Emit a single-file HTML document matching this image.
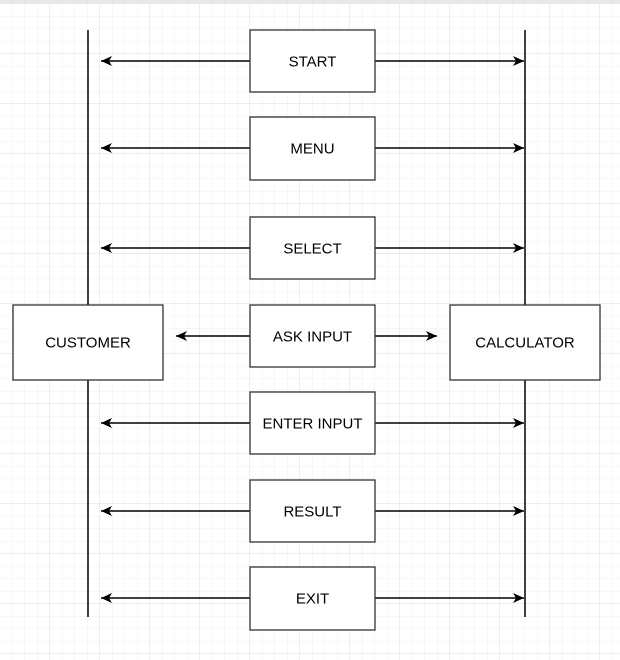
<!DOCTYPE html>
<html><head><style>
html,body{margin:0;padding:0;background:#fff}
svg{display:block}
text{font-family:"Liberation Sans",Arial,sans-serif;font-size:15px;fill:#000}
</style></head><body>
<svg width="620" height="660" viewBox="0 0 620 660">
<defs>
<pattern id="minor" x="0" y="4" width="12.5" height="12.5" patternUnits="userSpaceOnUse">
<path d="M12.5 0V12.5M0 12.5H12.5" stroke="#efefef" stroke-width="1" fill="none"/>
</pattern>
<pattern id="major" x="0" y="4" width="50" height="50" patternUnits="userSpaceOnUse">
<path d="M50 0V50M0 50H50" stroke="#dcdcdc" stroke-width="1" fill="none"/>
</pattern>
<marker id="ah" markerWidth="12" markerHeight="10" refX="11" refY="5" orient="auto" markerUnits="userSpaceOnUse">
<path d="M0,0 L11,5 L0,10 L3,5 Z" fill="#000"/>
</marker>
</defs>
<rect width="620" height="660" fill="url(#minor)"/>
<rect width="620" height="660" fill="url(#major)"/>
<rect width="620" height="4" fill="#e8e8e8"/>
<g stroke="#000" stroke-width="1.5">
<line x1="88" y1="30" x2="88" y2="617"/>
<line x1="525" y1="30" x2="525" y2="617"/>
</g>
<g stroke="#000" stroke-width="1.5" fill="none" marker-end="url(#ah)">
<line x1="250" y1="61" x2="101" y2="61"/><line x1="375" y1="61" x2="524" y2="61"/>
<line x1="250" y1="148" x2="101" y2="148"/><line x1="375" y1="148" x2="524" y2="148"/>
<line x1="250" y1="248" x2="101" y2="248"/><line x1="375" y1="248" x2="524" y2="248"/>
<line x1="250" y1="336" x2="176" y2="336"/><line x1="375" y1="336" x2="437" y2="336"/>
<line x1="250" y1="423" x2="101" y2="423"/><line x1="375" y1="423" x2="524" y2="423"/>
<line x1="250" y1="511" x2="101" y2="511"/><line x1="375" y1="511" x2="524" y2="511"/>
<line x1="250" y1="598" x2="101" y2="598"/><line x1="375" y1="598" x2="524" y2="598"/>
</g>
<g fill="#fff" stroke="#333" stroke-width="1.3">
<rect x="250" y="30" width="125" height="62"/>
<rect x="250" y="117" width="125" height="63"/>
<rect x="250" y="217" width="125" height="62"/>
<rect x="250" y="305" width="125" height="62"/>
<rect x="250" y="392" width="125" height="62"/>
<rect x="250" y="480" width="125" height="62"/>
<rect x="250" y="567" width="125" height="63"/>
<rect x="13" y="305" width="150" height="75"/>
<rect x="450" y="305" width="150" height="75"/>
</g>
<g text-anchor="middle">
<text x="312.5" y="66.5">START</text>
<text x="312.5" y="153.5">MENU</text>
<text x="312.5" y="253.5">SELECT</text>
<text x="312.5" y="341.5">ASK INPUT</text>
<text x="312.5" y="428.5">ENTER INPUT</text>
<text x="312.5" y="516.5">RESULT</text>
<text x="312.5" y="603.5">EXIT</text>
<text x="88" y="347.5">CUSTOMER</text>
<text x="525" y="347.5">CALCULATOR</text>
</g>
</svg>
</body></html>
